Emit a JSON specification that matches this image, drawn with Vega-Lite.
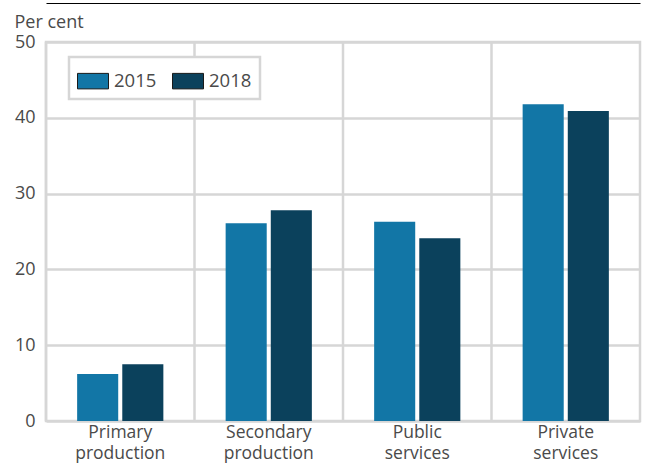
{
  "$schema": "https://vega.github.io/schema/vega-lite/v6.json",
  "width": 594,
  "height": 379,
  "autosize": {"type": "none"},
  "padding": {"left": 46, "top": 42, "right": 7, "bottom": 47},
  "background": "white",
  "config": {
    "font": "Open Sans",
    "view": {"stroke": "#d6d6d6", "strokeWidth": 2.5},
    "axis": {"labelFont": "Open Sans", "titleFont": "Open Sans", "labelColor": "#4a4a4a", "titleColor": "#4a4a4a"}
  },
  "datasets": {
    "shares": [
      {"sector": "Primary production", "year": "2015", "value": 6.2},
      {"sector": "Primary production", "year": "2018", "value": 7.5},
      {"sector": "Secondary production", "year": "2015", "value": 26.1},
      {"sector": "Secondary production", "year": "2018", "value": 27.8},
      {"sector": "Public services", "year": "2015", "value": 26.3},
      {"sector": "Public services", "year": "2018", "value": 24.1},
      {"sector": "Private services", "year": "2015", "value": 41.8},
      {"sector": "Private services", "year": "2018", "value": 40.9}
    ],
    "sectors": [
      {"sector": "Primary production"},
      {"sector": "Secondary production"},
      {"sector": "Public services"},
      {"sector": "Private services"}
    ]
  },
  "layer": [
    {
      "data": {"name": "sectors"},
      "mark": {"type": "rule", "color": "#d6d6d6", "strokeWidth": 2.5},
      "encoding": {
        "x": {"field": "sector", "type": "nominal", "bandPosition": 0, "sort": null,
              "scale": {"paddingInner": 0, "paddingOuter": 0},
              "axis": {"orient": "top", "offset": 39, "domainColor": "#000000", "domainWidth": 1.2, "labels": false, "ticks": false, "title": null, "grid": false}},
        "y": {"datum": 0, "type": "quantitative"},
        "y2": {"datum": 50}
      }
    },
    {
      "data": {"name": "shares"},
      "mark": {"type": "bar"},
      "encoding": {
        "x": {"field": "sector", "type": "nominal", "sort": null,
              "axis": {"orient": "bottom", "title": null, "labelAngle": 0, "labelFontSize": 17.5, "labelPadding": 2, "labelLineHeight": 21, "labelBaseline": "top",
                       "labelExpr": "split(datum.label, ' ')", "ticks": false, "domain": false, "grid": false}},
        "xOffset": {"field": "year", "type": "nominal", "scale": {"paddingInner": 0.09, "paddingOuter": 0.69}},
        "y": {"field": "value", "type": "quantitative",
              "scale": {"domain": [0, 50], "nice": false},
              "axis": {"title": "Per cent", "titleAngle": 0, "titleAlign": "left", "titleBaseline": "alphabetic", "titleX": -32, "titleY": -15, "titleFontSize": 18, "titleFontWeight": "normal",
                       "values": [0, 10, 20, 30, 40, 50], "labelFontSize": 18, "labelPadding": 11, "ticks": false, "domain": false,
                       "grid": true, "gridColor": "#d6d6d6", "gridWidth": 2.5}},
        "color": {"field": "year", "type": "nominal",
                  "scale": {"domain": ["2015", "2018"], "range": ["#1276a6", "#0b415c"]},
                  "legend": {"title": null, "orient": "none", "legendX": 23, "legendY": 15, "direction": "horizontal",
                             "symbolType": "M-1,-0.5H1V0.5H-1Z", "symbolSize": 961, "symbolStrokeColor": "#1a1a1a", "symbolStrokeWidth": 1,
                             "labelFontSize": 18.5, "labelColor": "#4a4a4a", "labelOffset": 5, "columnPadding": 13,
                             "strokeColor": "#d6d6d6", "padding": 8, "fillColor": "white",
                             "encode": {"legend": {"update": {"strokeWidth": {"value": 2.5}}}}}}
      }
    }
  ]
}
